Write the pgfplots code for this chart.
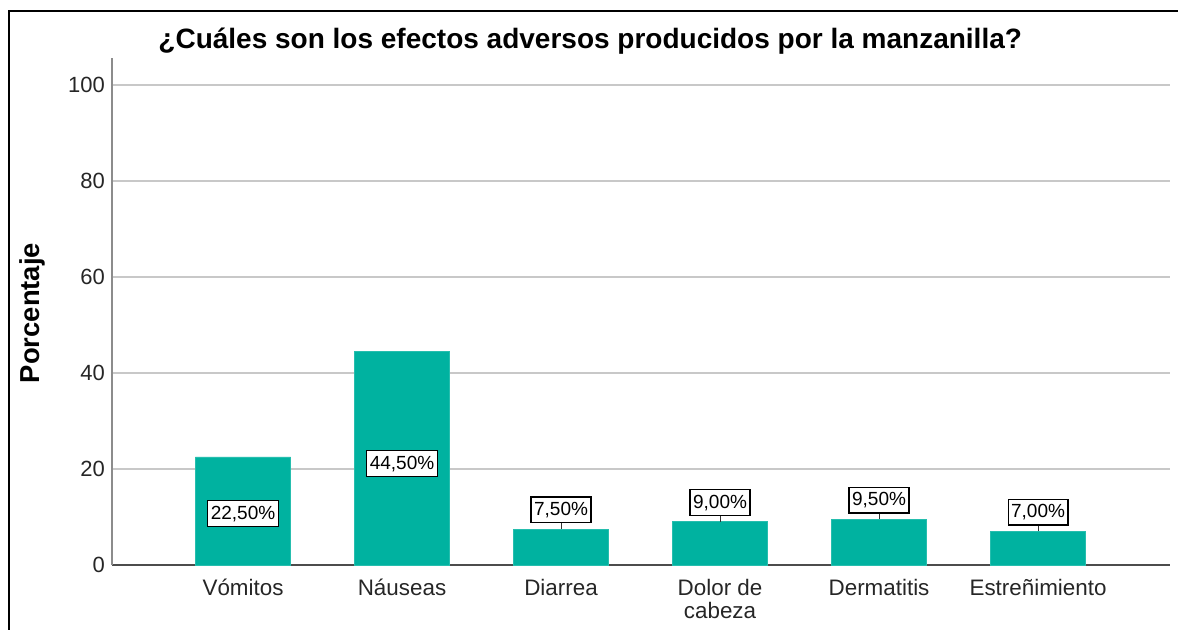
\documentclass[border=0pt]{standalone}
\usepackage{pgfplots}
\pgfplotsset{compat=1.18}
\usepackage{pgfplotstable}
\usepackage{fontspec}
\setmainfont{Liberation Sans}

\definecolor{barteal}{RGB}{0,178,160}
\definecolor{gridgray}{RGB}{200,200,200}

% x = category index, y = percentage, ly = bottom of the label box
\pgfplotstableread{
x y ly lbl
0 22.5 7.9 {22,50\%}
1 44.5 18.3 {44,50\%}
2 7.5 8.7 {7,50\%}
3 9.0 10.2 {9,00\%}
4 9.5 10.7 {9,50\%}
5 7.0 8.2 {7,00\%}
}\data

\pgfplotstableread{
x y
2 7.5
3 9.0
4 9.5
5 7.0
}\small

\begin{document}
\begin{tikzpicture}
\begin{axis}[
  scale only axis,
  width=529pt, height=253.5pt,
  xmin=-0.824, xmax=5.83,
  ymin=0, ymax=105.6,
  axis lines=left,
  axis line style={-},
  x axis line style={draw=black!70, line width=0.8pt},
  y axis line style={draw=black!45, line width=0.8pt},
  major tick length=0pt,
  xtick=data,
  xticklabels={Vómitos, Náuseas, Diarrea, {Dolor de\\cabeza}, Dermatitis, Estreñimiento},
  xticklabel style={align=center, yshift=-3.5pt, font=\fontsize{11.2}{11.5}\selectfont, text=black!85},
  ytick={0,20,...,100},
  yticklabel style={font=\fontsize{11}{12}\selectfont, text=black!85},
  /pgf/number format/assume math mode=true,
  ymajorgrids,
  grid style={gridgray, line width=0.75pt},
  title={¿Cuáles son los efectos adversos producidos por la manzanilla?},
  title style={at={(axis description cs:0.452,1.033)}, anchor=center, yshift=-6pt,
    font=\bfseries\fontsize{14}{16}\selectfont},
  ylabel={Porcentaje},
  ylabel style={at={(axis description cs:-0.075,0.497)}, anchor=center,
    font=\bfseries\fontsize{13.7}{16}\selectfont},
]
\addplot[ybar, bar width=0.6, fill=barteal, draw=barteal!85!white] table[x=x, y=y]{\data};

\addplot[draw=none, mark=none,
  error bars/.cd, y dir=plus, y fixed=1.2, error mark=none,
  error bar style={draw=black!80, line width=0.5pt}] table[x=x, y=y]{\small};

\addplot[draw=none, mark=none, nodes near coords, point meta=explicit symbolic,
  every node near coord/.style={anchor=south, draw=black, fill=white,
    line width=0.6pt, inner xsep=1.5pt, inner ysep=2.5pt,
    font=\fontsize{9.5}{10}\selectfont}]
  table[x=x, y=ly, meta=lbl]{\data};
\end{axis}
\draw[line width=0.75pt] (-51.5pt,-40pt) -- (-51.5pt,277pt) -- (540pt,277pt);
\pgfresetboundingbox
\useasboundingbox (-56pt,-32pt) rectangle (533pt,282.5pt);
\end{tikzpicture}
\end{document}
